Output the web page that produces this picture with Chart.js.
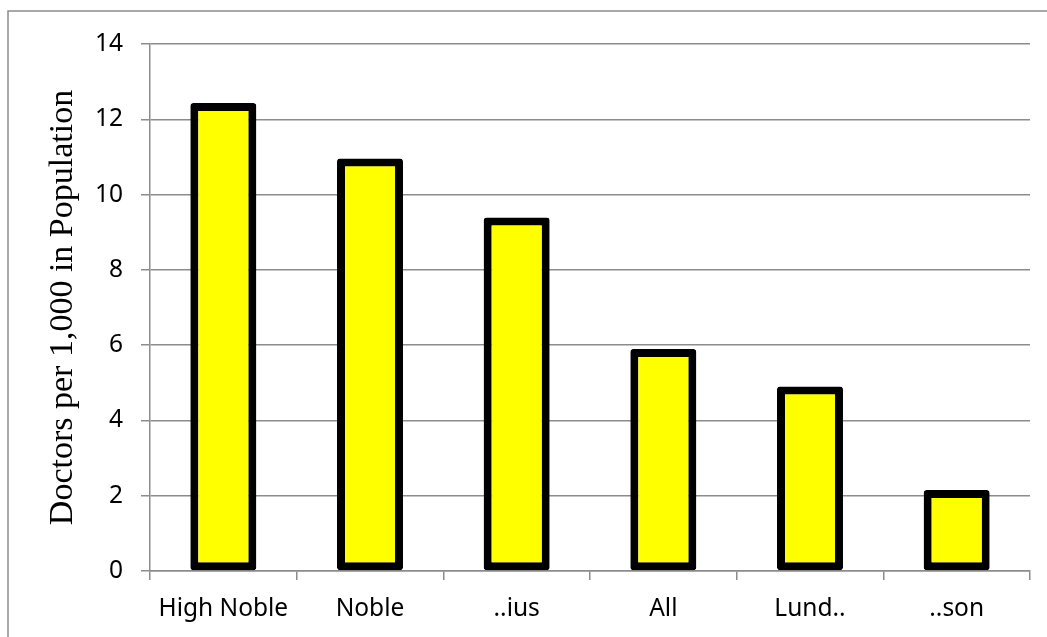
<!DOCTYPE html>
<html>
<head>
<meta charset="utf-8">
<script src="https://cdn.jsdelivr.net/npm/chart.js@4/dist/chart.umd.min.js"></script>
<style>
  html, body { margin: 0; padding: 0; background: #fff; overflow: hidden; }
  canvas { display: block; }
</style>
</head>
<body>
<canvas id="barChart" width="1047" height="637" style="width:1047px;height:637px"></canvas>
<script>
// data
const groups = ['High Noble', 'Noble', '..ius', 'All', 'Lund..', '..son'];
const doctors = [12.43, 10.96, 9.39, 5.9, 4.9, 2.15];
const yTicks = [0, 2, 4, 6, 8, 10, 12, 14];

const gridGray = '#8c8c8c';

// thin frame, only top and left edges show in the picture
const frame = {
    id: 'frame',
    beforeDraw(chart) {
        const c = chart.ctx;
        c.save();
        c.strokeStyle = gridGray;
        c.lineWidth = 1.5;
        c.beginPath();
        c.moveTo(8, 637);
        c.lineTo(8, 11);
        c.lineTo(1047, 11);
        c.stroke();
        c.restore();
    }
};

const ctx = document.getElementById('barChart').getContext('2d');
const chart = new Chart(ctx, {
    type: 'bar',
    data: {
        labels: groups,
        datasets: [{
            data: doctors,
            backgroundColor: '#ffff00',
            borderColor: '#000000',
            borderWidth: 8,
            borderSkipped: false,
            borderRadius: 3,
            barPercentage: 0.45,
            categoryPercentage: 1.0
        }]
    },
    options: {
        responsive: false,
        animation: false,
        devicePixelRatio: 1,
        layout: { padding: { top: 44, right: 17, left: 0, bottom: 0 } },
        plugins: {
            legend: { display: false },
            tooltip: { enabled: false }
        },
        scales: {
            x: {
                grid: {
                    offset: true,
                    drawOnChartArea: false,
                    drawTicks: true,
                    tickLength: 9,
                    color: gridGray,
                    lineWidth: 1.5
                },
                border: { color: gridGray, width: 1.5 },
                ticks: {
                    color: '#000',
                    font: { family: 'Noto Sans', size: 24.5 },
                    padding: 14,
                    maxRotation: 0
                },
                afterFit(scale) { scale.height = 66; }
            },
            y: {
                min: 0,
                max: 14,
                afterBuildTicks(scale) {
                    scale.ticks = yTicks.map(v => ({ value: v }));
                },
                grid: {
                    color: gridGray,
                    lineWidth: 1.5,
                    tickLength: 9
                },
                border: { color: gridGray, width: 1.5 },
                ticks: {
                    color: '#000',
                    font: { family: 'Noto Sans', size: 24.5 },
                    padding: 18
                },
                title: {
                    display: true,
                    text: 'Doctors per 1,000 in Population',
                    color: '#000',
                    font: { family: 'Liberation Serif', size: 34 },
                    padding: { top: 43, bottom: 0 }
                },
                afterFit(scale) { scale.width = 150; }
            }
        }
    },
    plugins: [frame]
});
</script>
</body>
</html>
